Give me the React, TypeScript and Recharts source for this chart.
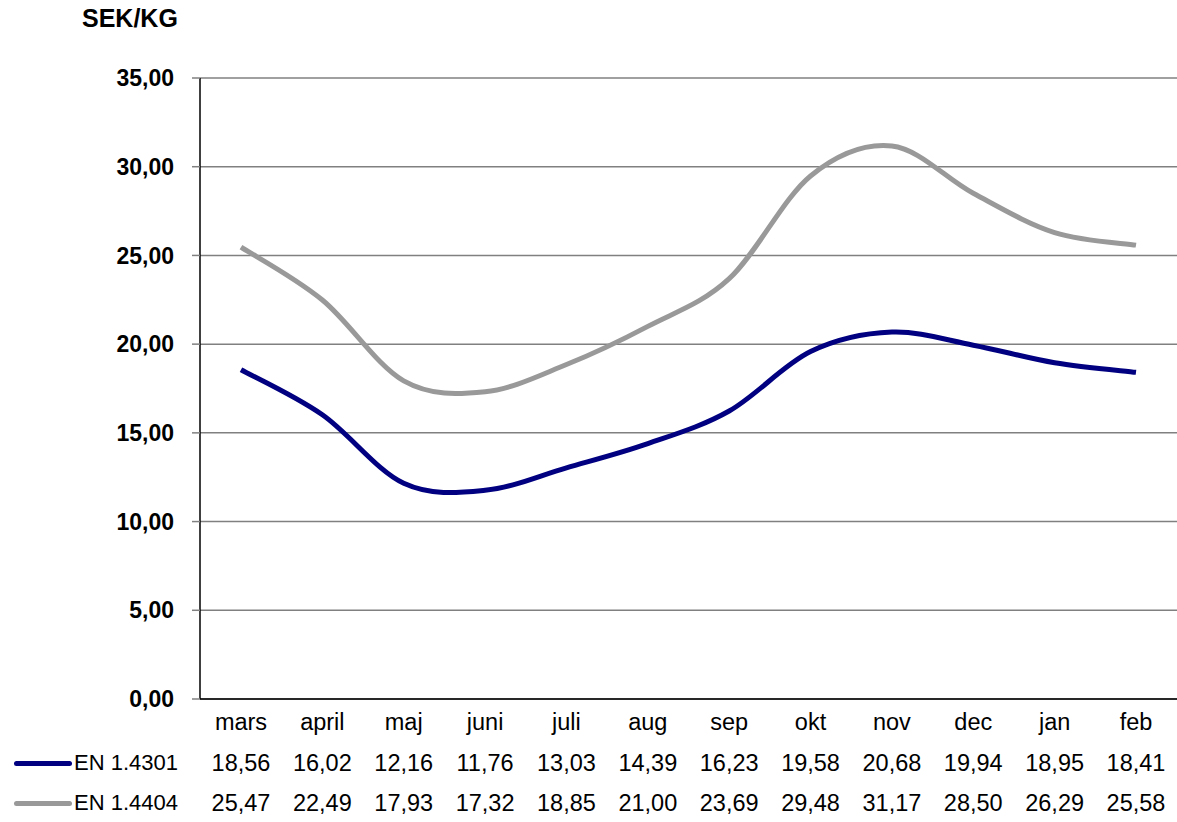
import { LineChart, Line, XAxis, YAxis, CartesianGrid } from 'recharts'

const months = ['mars', 'april', 'maj', 'juni', 'juli', 'aug', 'sep', 'okt', 'nov', 'dec', 'jan', 'feb']
const en4301 = [18.56, 16.02, 12.16, 11.76, 13.03, 14.39, 16.23, 19.58, 20.68, 19.94, 18.95, 18.41]
const en4404 = [25.47, 22.49, 17.93, 17.32, 18.85, 21.0, 23.69, 29.48, 31.17, 28.5, 26.29, 25.58]
const yTicks = [0, 5, 10, 15, 20, 25, 30, 35]

const series = [
  { key: 'a', name: 'EN 1.4301', color: '#000080', values: en4301 },
  { key: 'b', name: 'EN 1.4404', color: '#999999', values: en4404 },
]

const data = months.map((m, i) => ({ month: m, a: en4301[i], b: en4404[i] }))

const FONT = '"Liberation Sans", Arial, sans-serif'
const fmt = (v: number) => v.toFixed(2).replace('.', ',')
const pad = { left: 41, right: 41 }

// Excel-style smoothed line (Catmull-Rom through every point)
const smoothCurve = (ctx: any) => {
  let pts: number[][] = []
  return {
    areaStart() {},
    areaEnd() {},
    lineStart() { pts = [] },
    point(x: number, y: number) { pts.push([x, y]) },
    lineEnd() {
      if (!pts.length) return
      ctx.moveTo(pts[0][0], pts[0][1])
      for (let i = 0; i < pts.length - 1; i++) {
        const p0 = pts[Math.max(i - 1, 0)]
        const p1 = pts[i]
        const p2 = pts[i + 1]
        const p3 = pts[Math.min(i + 2, pts.length - 1)]
        ctx.bezierCurveTo(
          p1[0] + (p2[0] - p0[0]) / 6, p1[1] + (p2[1] - p0[1]) / 6,
          p2[0] - (p3[0] - p1[0]) / 6, p2[1] - (p3[1] - p1[1]) / 6,
          p2[0], p2[1],
        )
      }
    },
  }
}

function RowTick({ x, y, index, payload, values, offset }: any) {
  const label = values ? fmt(values[index]) : payload.value
  return (
    <text x={x} y={y + offset} textAnchor="middle" dominantBaseline="central"
      fontFamily={FONT} fontSize={23.5} fill="#000">
      {label}
    </text>
  )
}

export default function App() {
  return (
    <div style={{ position: 'absolute', left: 0, top: 0, width: 1177, height: 822, background: '#fff', fontFamily: FONT }}>
      <div style={{ position: 'absolute', left: 82, top: 4, fontSize: 25, fontWeight: 'bold' }}>SEK/KG</div>
      <LineChart width={1177} height={822} data={data} margin={{ top: 78, right: 0, bottom: 0, left: 0 }}>
        <CartesianGrid vertical={false} stroke="#808080" strokeWidth={1.5} />
        <XAxis dataKey="month" xAxisId="main" height={44} axisLine={{ stroke: '#000', strokeWidth: 1.5 }}
          tickLine={false} tickSize={0} tickMargin={0} interval={0} padding={pad}
          tick={(p: any) => <RowTick {...p} offset={23} />} />
        <XAxis dataKey="month" xAxisId="row1" height={40} axisLine={false}
          tickLine={false} tickSize={0} tickMargin={0} interval={0} padding={pad}
          tick={(p: any) => <RowTick {...p} values={en4301} offset={20} />} />
        <XAxis dataKey="month" xAxisId="row2" height={39} axisLine={false}
          tickLine={false} tickSize={0} tickMargin={0} interval={0} padding={pad}
          tick={(p: any) => <RowTick {...p} values={en4404} offset={20} />} />
        <YAxis width={200} domain={[0, 35]} ticks={yTicks} interval={0}
          axisLine={{ stroke: '#000', strokeWidth: 1.5 }}
          tickLine={{ stroke: '#808080', strokeWidth: 1.5 }} tickSize={8} tickMargin={18}
          tickFormatter={fmt}
          tick={{ fill: '#000', fontSize: 23, fontWeight: 'bold', fontFamily: FONT }} />
        {series.map((s) => (
          <Line key={s.key} xAxisId="main" type={smoothCurve as any} dataKey={s.key} name={s.name}
            stroke={s.color} strokeWidth={5} dot={false} isAnimationActive={false} />
        ))}
      </LineChart>
      {series.map((s, i) => (
        <div key={s.key} style={{ position: 'absolute', left: 14, top: 750 + i * 40, height: 26, display: 'flex', alignItems: 'center' }}>
          <div style={{ width: 58, height: 5, borderRadius: 3, background: s.color }} />
          <span style={{ fontSize: 22, marginLeft: 2 }}>{s.name}</span>
        </div>
      ))}
    </div>
  )
}
